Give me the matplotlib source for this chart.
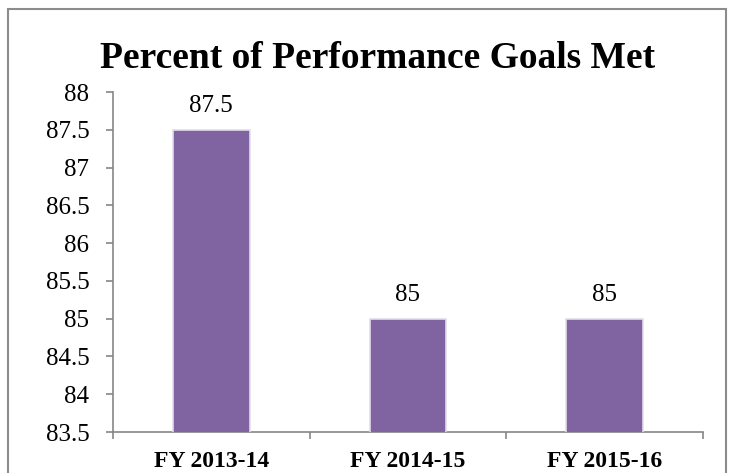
import matplotlib
matplotlib.use("Agg")
import matplotlib.pyplot as plt
from matplotlib.patches import Rectangle
from matplotlib.ticker import FixedLocator

categories = ["FY 2013-14", "FY 2014-15", "FY 2015-16"]
values = [87.5, 85, 85]
yticks = [83.5, 84, 84.5, 85, 85.5, 86, 86.5, 87, 87.5, 88]
title = "Percent of Performance Goals Met"

plt.rcParams['font.family'] = ['Liberation Serif', 'DejaVu Serif']

fig = plt.figure(figsize=(7.34, 4.73), dpi=100)
ax = fig.add_axes([113/734, 41/473, 590/734, 340/473])

x = list(range(len(categories)))
ax.bar(x, values, width=0.39, color="#8064A2", edgecolor="#e3dde9", linewidth=1.2, zorder=3)
for xi, v in zip(x, values):
    ax.annotate(f"{v:g}", (xi, v), xytext=(0, 13), textcoords="offset points",
                ha="center", va="baseline", fontsize=18)

ax.set_xlim(-0.5, 2.5)
ax.set_ylim(83.5, 88)
ax.set_yticks(yticks)
ax.set_yticklabels([f"{t:g}" for t in yticks], fontsize=18)
ax.set_xticks(x)
ax.set_xticklabels(categories, fontsize=17, fontweight="bold")
ax.xaxis.set_minor_locator(FixedLocator([-0.5, 0.5, 1.5, 2.5]))
ax.tick_params(axis="x", which="major", length=0, pad=14)
ax.tick_params(axis="x", which="minor", length=5, color="#868686", width=1.2)
ax.tick_params(axis="y", length=5, color="#868686", width=1.2, pad=12)

for s in ["top", "right"]:
    ax.spines[s].set_visible(False)
for s in ["left", "bottom"]:
    ax.spines[s].set_color("#868686")
    ax.spines[s].set_linewidth(1.2)

fig.text(378/734, 1 - 58/473, title, ha="center", va="center", fontsize=27, fontweight="bold")

fig.patches.append(Rectangle((8/734, -0.05), (726-8)/734, 1 - 9/473 + 0.05, transform=fig.transFigure,
                             fill=False, edgecolor="#8c8c8c", linewidth=1.5))

fig.savefig("out.png", dpi=100)
